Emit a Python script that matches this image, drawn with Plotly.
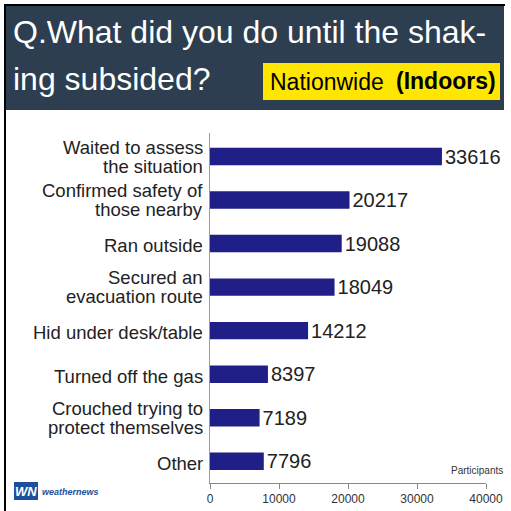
import plotly.graph_objects as go

# Survey answers (indoors, nationwide) and number of participants
categories = [
    "Waited to assess<br>the situation",
    "Confirmed safety of<br>those nearby",
    "Ran outside",
    "Secured an<br>evacuation route",
    "Hid under desk/table",
    "Turned off the gas",
    "Crouched trying to<br>protect themselves",
    "Other",
]
participants = [33616, 20217, 19088, 18049, 14212, 8397, 7189, 7796]
x_ticks = [0, 10000, 20000, 30000, 40000]
x_tick_labels = ["0", "10000", "20000", "30000", "40000"]

title_lines = ["Q.What did you do until the shak-", "ing subsided?"]
badge_left, badge_right = "Nationwide", "(Indoors)"
unit_label = "Participants"

W = H = 511


def px(x):
    return x / W


def py(y):
    return 1 - y / H


BAR = "#1f1f87"
HEADER = "#2c3e50"
YELLOW = "#ffe600"
TEXT = "#222222"
SANS = "Liberation Sans, Arial, sans-serif"

fig = go.Figure(
    go.Bar(
        x=participants,
        y=categories,
        orientation="h",
        width=0.4,
        marker=dict(color=BAR, line=dict(width=0)),
        text=[str(v) for v in participants],
        textposition="outside",
        textfont=dict(family=SANS, size=20, color=TEXT),
        cliponaxis=False,
        constraintext="none",
        hoverinfo="skip",
    )
)

annotations = []

# category labels, one annotation per text line for tight spacing
for cat in categories:
    lines = cat.split("<br>")
    shifts = [9.5, -9.5] if len(lines) == 2 else [-2]
    for line, dy in zip(lines, shifts):
        annotations.append(dict(
            text=line, xref="paper", x=px(205), xanchor="right",
            yref="y", y=cat, yanchor="middle", yshift=dy,
            showarrow=False, font=dict(family=SANS, size=18.5, color=TEXT),
        ))

# header title
for line, yc in zip(title_lines, [32, 79]):
    annotations.append(dict(
        text=line, xref="paper", yref="paper", x=px(11), y=py(yc),
        xanchor="left", yanchor="middle", showarrow=False,
        font=dict(family=SANS, size=32, color="white"),
    ))

annotations += [
    dict(text=badge_left, xref="paper", yref="paper", x=px(268), y=py(82),
         xanchor="left", yanchor="middle", showarrow=False,
         font=dict(family=SANS, size=23, color="black")),
    dict(text="<b>" + badge_right + "</b>", xref="paper", yref="paper", x=px(498), y=py(81),
         xanchor="right", yanchor="middle", showarrow=False,
         font=dict(family=SANS, size=23, color="black")),
    dict(text=unit_label, xref="paper", yref="paper", x=px(505), y=py(470),
         xanchor="right", yanchor="middle", showarrow=False,
         font=dict(family=SANS, size=10, color="#333")),
    # weathernews logo
    dict(text="<b><i>WN</i></b>", xref="paper", yref="paper", x=px(26), y=py(491),
         xanchor="center", yanchor="middle", showarrow=False,
         font=dict(family=SANS, size=13, color="white")),
    dict(text="<b><i>weathernews</i></b>", xref="paper", yref="paper", x=px(40), y=py(492),
         xanchor="left", yanchor="middle", showarrow=False,
         font=dict(family=SANS, size=9, color="#1d4f9c")),
]

shapes = [
    dict(type="rect", xref="paper", yref="paper", x0=px(5), x1=px(504), y0=py(110), y1=py(5),
         fillcolor=HEADER, line=dict(width=0), layer="below"),
    dict(type="rect", xref="paper", yref="paper", x0=px(263), x1=px(500), y0=py(100), y1=py(63),
         fillcolor=YELLOW, line=dict(width=0), layer="below"),
    dict(type="line", xref="paper", yref="paper", x0=px(5), x1=px(5), y0=py(511), y1=py(4),
         line=dict(color="black", width=2)),
    dict(type="line", xref="paper", yref="paper", x0=px(4), x1=px(505), y0=py(5), y1=py(5),
         line=dict(color="black", width=2)),
    dict(type="rect", xref="paper", yref="paper", x0=px(14), x1=px(38), y0=py(500), y1=py(482),
         fillcolor="#1d4f9c", line=dict(width=0)),
]

fig.update_layout(
    width=W, height=H,
    margin=dict(l=0, r=0, t=0, b=0),
    paper_bgcolor="white", plot_bgcolor="white",
    showlegend=False,
    bargap=0.6,
    xaxis=dict(
        domain=[px(210), px(486)], range=[0, 40000],
        tickvals=x_ticks, ticktext=x_tick_labels,
        ticks="outside", ticklen=5, tickcolor="#888",
        showline=True, linecolor="#888", linewidth=1,
        showgrid=False, zeroline=False, automargin=False,
        tickfont=dict(family=SANS, size=12, color="#333"),
    ),
    yaxis=dict(
        domain=[py(483), py(133)],
        type="category", categoryorder="array", categoryarray=categories,
        range=[7.5, -0.54],
        showticklabels=False, ticks="",
        showline=True, linecolor="#999", linewidth=1,
        showgrid=False, zeroline=False, automargin=False,
    ),
    annotations=annotations,
    shapes=shapes,
)

fig.write_html("out.html")
